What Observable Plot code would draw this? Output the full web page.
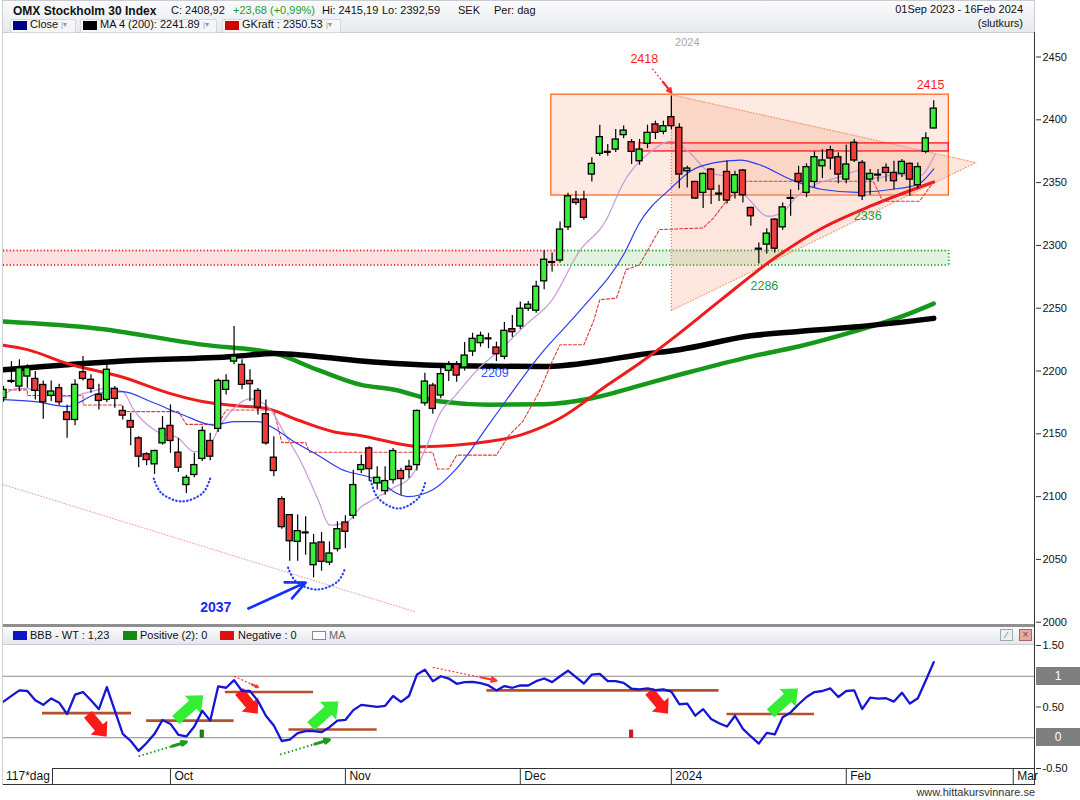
<!DOCTYPE html>
<html><head><meta charset="utf-8">
<script src="https://cdn.jsdelivr.net/npm/d3@7"></script>
<script src="https://cdn.jsdelivr.net/npm/@observablehq/plot@0.6"></script>
<style>
body{margin:0;background:#fff;font-family:"Liberation Sans",Arial,sans-serif;}
#wrap{position:relative;width:1080px;height:800px;overflow:hidden;background:#fff;}
</style></head><body><div id="wrap"></div>
<script>
// ---------- DATA ----------
const candleOpen = [2178.3,2192.1,2187.6,2195.6,2193.7,2188.9,2180.2,2186.3,2167.1,2161.0,
 2199.0,2193.0,2181.0,2177.0,2185.8,2168.2,2160.2,2146.4,2133.7,2125.7,
 2142.4,2156.3,2135.0,2109.2,2117.2,2130.0,2144.3,2153.9,2185.0,2207.5,
 2204.9,2192.1,2184.2,2165.6,2131.0,2098.0,2085.3,2064.0,2071.5,2045.4,
 2063.5,2047.5,2058.2,2079.4,2084.7,2121.2,2138.4,2110.5,2104.4,2113.2,
 2120.4,2123.8,2125.1,2174.3,2188.4,2180.5,2200.1,2204.9,2202.8,2215.5,
 2222.2,2226.0,2218.7,2211.3,2233.3,2235.5,2249.6,2248.0,2271.4,2286.8,
 2287.9,2314.4,2336.5,2336.5,2356.4,2372.9,2374.5,2376.3,2387.8,2382.2,
 2367.0,2380.9,2396.3,2390.4,2402.1,2393.6,2359.0,2350.5,2341.8,2360.4,
 2341.3,2358.5,2341.8,2359.6,2329.8,2297.4,2300.6,2320.5,2314.4,2337.8,
 2356.9,2341.8,2350.5,2363.0,2375.8,2370.2,2352.4,2381.7,2365.7,2352.4,
 2356.4,2361.7,2357.7,2356.9,2364.9,2347.9,2374.5,2393.1];
const candleHigh = [2187.6,2207.5,2208.9,2204.9,2199.6,2192.1,2192.1,2189.5,2173.0,2193.0,
 2211.6,2197.0,2189.5,2205.0,2187.6,2171.7,2166.3,2147.7,2135.0,2137.0,
 2163.7,2173.0,2146.4,2117.0,2134.5,2155.7,2150.4,2193.7,2197.0,2235.5,
 2209.0,2201.0,2186.0,2177.0,2147.7,2099.9,2085.8,2085.3,2084.0,2069.9,
 2071.5,2064.0,2080.0,2084.7,2121.0,2133.0,2139.8,2123.8,2123.8,2138.4,
 2122.5,2129.0,2169.0,2198.3,2190.3,2205.4,2207.5,2207.5,2222.7,2230.1,
 2231.0,2230.0,2223.0,2238.7,2244.2,2254.9,2255.4,2271.4,2295.8,2293.9,
 2318.7,2341.5,2343.1,2343.1,2369.7,2395.7,2380.3,2392.3,2395.0,2384.3,
 2384.3,2395.7,2398.9,2398.9,2418.9,2396.8,2363.0,2351.0,2357.7,2361.2,
 2347.9,2367.0,2359.0,2360.4,2330.3,2301.9,2313.3,2321.3,2333.8,2344.4,
 2363.0,2364.9,2374.5,2376.3,2379.0,2373.7,2379.8,2384.3,2367.5,2360.4,
 2360.4,2364.9,2367.0,2368.4,2365.7,2365.7,2389.6,2415.2];
const candleLow = [2175.1,2190.0,2183.6,2186.3,2177.0,2161.6,2175.7,2172.5,2146.4,2156.5,
 2192.0,2182.3,2169.0,2175.0,2170.3,2161.0,2140.6,2123.0,2124.6,2117.7,
 2141.0,2134.5,2119.3,2102.5,2115.0,2128.0,2128.6,2151.0,2181.0,2205.0,
 2185.0,2175.7,2165.0,2141.0,2115.8,2074.0,2048.6,2048.6,2053.4,2035.3,
 2040.6,2045.0,2056.0,2058.7,2082.0,2118.5,2112.0,2105.2,2101.0,2110.0,
 2101.0,2114.5,2120.4,2172.0,2165.6,2178.0,2191.6,2191.1,2200.1,2211.5,
 2219.0,2217.7,2207.5,2209.0,2226.7,2233.0,2247.4,2246.0,2264.7,2278.8,
 2286.0,2311.8,2332.0,2320.0,2350.5,2371.0,2371.0,2374.0,2385.0,2364.4,
 2363.8,2377.0,2384.3,2388.0,2392.0,2345.2,2345.8,2336.5,2329.3,2332.5,
 2335.0,2333.0,2337.0,2333.8,2315.2,2285.2,2293.1,2294.0,2312.0,2323.2,
 2343.6,2338.0,2346.0,2353.2,2360.0,2349.0,2349.0,2366.0,2335.7,2339.9,
 2350.5,2350.5,2344.4,2354.0,2339.1,2345.0,2373.0,2392.6];
const candleClose = [2185.0,2192.1,2202.2,2202.2,2184.2,2175.1,2183.7,2175.1,2161.0,2189.0,
 2193.7,2185.8,2176.2,2201.0,2177.8,2164.5,2154.9,2131.8,2129.1,2136.3,
 2153.9,2144.3,2123.0,2115.0,2125.1,2152.3,2131.8,2192.1,2192.1,2211.5,
 2189.0,2189.5,2170.9,2142.4,2120.4,2075.7,2064.5,2072.5,2071.5,2062.7,
 2048.1,2054.7,2074.1,2072.0,2109.2,2125.1,2121.9,2115.0,2112.4,2136.3,
 2114.0,2121.2,2168.2,2191.6,2169.8,2197.5,2204.9,2196.4,2212.3,2225.6,
 2228.0,2226.0,2213.4,2232.0,2230.9,2249.6,2252.8,2267.1,2288.6,2286.8,
 2312.6,2339.1,2333.8,2322.0,2364.9,2386.2,2374.5,2384.3,2391.4,2374.5,
 2376.3,2389.6,2389.6,2394.9,2394.9,2356.4,2361.2,2337.3,2356.9,2344.4,
 2341.3,2335.7,2355.9,2339.9,2323.2,2297.4,2309.4,2297.4,2330.3,2337.8,
 2350.5,2362.3,2370.2,2367.6,2369.2,2356.4,2364.4,2367.6,2339.1,2356.9,
 2356.4,2357.7,2351.1,2366.5,2352.4,2362.3,2385.2,2408.9];

// moving averages / indicator lines: [trading-day index, value]
const ma200Line = [[0,2201],[15,2208],[29,2211.6],[34,2214],[37,2213],[45,2208],[55,2204.4],[68,2203.6],[75,2208],[80,2213],[85,2217],[94,2228],[100,2231.5],[107,2235],[117,2241.9]];
const greenAvgLine = [[0,2239.4],[12,2233.7],[25,2221],[34,2214.2],[39.5,2201],[45,2189],[49,2185.3],[55,2175.7],[61,2173.2],[68,2173.5],[74,2178.3],[80,2188.4],[85,2197],[94,2211.5],[100,2219.5],[107,2231.5],[113,2243.5],[117,2253.7]];
const gkraftLine = [[0,2220.5],[3,2217],[8,2206],[15,2195],[21,2182],[25,2175.7],[29,2172.5],[33,2170.3],[37,2161],[41.5,2151.7],[45,2148.5],[52.5,2139.8],[61,2143.8],[65,2149],[70,2162.4],[76,2189],[80,2206.2],[85,2230],[90,2255.4],[97,2290],[103,2313.9],[109,2331.2],[117,2350.5]];
const blueAvgLine = [[0,2177.3],[4,2175.7],[8,2171.7],[12,2182.3],[15,2183.6],[18.5,2175.7],[22.6,2165],[26.4,2157],[29,2159.7],[32,2159.7],[34,2154.4],[36.5,2143.8],[39.5,2133.2],[42.4,2122],[46.5,2114.5],[50.8,2100],[54,2105.5],[57,2122.5],[61.3,2159.7],[67.5,2212.9],[72.6,2248.8],[78,2292.7],[80,2318],[84,2345.8],[86.4,2359.1],[89.3,2365.7],[92.7,2367.9],[95,2364.4],[99,2352.5],[103,2344.5],[107.4,2342.3],[111.6,2344.5],[115,2348.5],[117,2360.9]];
const purpleAvgLine = [[0,2181],[2,2186.3],[5,2183.6],[8,2179.6],[11,2183.6],[13,2186.3],[15,2183.6],[16.4,2169],[19,2153],[22,2146.4],[24,2135.8],[25.6,2138.4],[27.3,2157],[29,2170.3],[31,2177.8],[33.2,2171.7],[35.7,2146.4],[37.4,2127.8],[39.5,2098.6],[41.1,2077.3],[43.2,2080],[45,2091.9],[46.4,2097.2],[48.9,2106.5],[51.4,2117.2],[53.1,2138.4],[54.8,2165],[56.9,2181],[59.8,2202.2],[62.7,2218.2],[65.7,2236.8],[69,2256.7],[72.4,2295],[75.7,2319.2],[78,2350],[81.5,2375],[84,2383],[86.1,2375],[88.6,2359],[91.1,2353.7],[93.6,2337.8],[96.2,2323.2],[97.9,2325.8],[99.6,2337.8],[102.1,2348.4],[105.5,2355],[107.6,2359.6],[109.7,2353.7],[112.2,2356.4],[115.1,2355],[117.2,2372.9]];
const stopLine = [[0,2185],[3,2185],[3,2180.5],[10,2180.5],[10,2173],[15,2173],[15,2167.7],[22,2167.7],[23,2157.5],[27,2157.5],[28,2169],[34,2169],[35,2143],[38,2143],[38.5,2135.3],[54,2135.3],[54.6,2122],[56,2122],[57,2133],[62,2133],[63.6,2149],[65.3,2159.7],[67.4,2183.6],[69,2207.6],[70,2220.9],[73,2220.9],[74.2,2239.5],[75,2256.7],[77.1,2258],[78.3,2280.7],[80,2284.6],[82.5,2312.6],[88,2313.9],[89.3,2321.8],[90.9,2335.1],[93.4,2351.1],[109.4,2351.1],[110.6,2335.1],[115.2,2335.1],[116.9,2349.8]];

// lower panel indicator (BBB - WT)
const bbbValues = [0.588,0.68,0.77,0.76,0.61,0.535,0.64,0.57,0.385,0.70,
 0.743,0.61,0.465,0.823,0.44,0.064,-0.053,-0.214,-0.086,0.064,
 0.289,0.225,0.048,0.021,0.182,0.44,0.278,0.834,0.813,0.936,
 0.76,0.76,0.60,0.358,0.198,-0.053,-0.032,0.075,0.107,0.107,
 0.091,0.171,0.278,0.289,0.449,0.535,0.519,0.503,0.519,0.679,
 0.583,0.679,1.027,1.107,0.92,1.0,0.963,0.877,0.904,0.909,
 0.888,0.85,0.77,0.84,0.813,0.85,0.85,0.92,0.963,0.904,
 1.0,1.09,0.984,0.882,1.027,1.037,0.92,0.92,0.893,0.797,
 0.786,0.802,0.775,0.786,0.749,0.545,0.556,0.358,0.465,0.305,
 0.235,0.182,0.358,0.144,0.021,-0.096,0.08,0.053,0.332,0.412,
 0.545,0.663,0.743,0.76,0.802,0.663,0.76,0.77,0.465,0.652,
 0.636,0.642,0.588,0.733,0.556,0.642,0.93,1.23];
const bbbLevels = [[4.9,16.1,0.40],[18,29,0.278],[27.9,39,0.743],[35.9,47,0.134],[60.8,90,0.77],[91,102,0.385]];
const bbbDownArrows = [[11.8,0.198],[30.8,0.572],[82.4,0.572]];
const bbbUpArrows = [[23.4,0.49],[40.4,0.39],[98.2,0.6]];
const bbbGreenDashArrows = [[17,-0.30,23,-0.07],[34.8,-0.273,41,-0.032]];
const bbbRedDashArrows = [[29,1.0,32,0.823],[54,1.144,62,0.93]];
const bbbPositiveBars = [[25,0.118]];
const bbbNegativeBars = [[79,0.118]];

// annotations on the price panel
const zoneBox = [[68.9,118.9,2339.7,2420]];
const resistBand = [[80,118.9,2374.8,2381.2]];
const supportRed = [[0,70.1,2284.5,2296]];
const supportGreen = [[70.1,118.9,2284.5,2296]];
const triangleZone = [[84,2248.2,2420],[122.3,2365.9,2365.9]];
const trendLine = [[0,2109.5],[51.8,2008.2]];
const smileArcs = [[18.9,26,2114.4,2096.1],[35.8,43,2043.5,2026],[46.2,53.1,2112.8,2090.5]];
const priceLabels = [
  {i:80.6, p:2448.8, t:"2418", c:"#ff1a1a"},
  {i:116.6, p:2428.1, t:"2415", c:"#ff1a1a"},
  {i:108.7, p:2323.8, t:"2336", c:"#239a3a"},
  {i:95.7, p:2267.3, t:"2286", c:"#239a3a"},
  {i:61.8, p:2198.8, t:"2209", c:"#2b50ff"},
  {i:86, p:2461.5, t:"2024", c:"#a8a8a8"}
];

const priceTicks = [2000,2050,2100,2150,2200,2250,2300,2350,2400,2450];
const bbbTicks = [1.5,0.5,-0.5];
const bbbBoxedTicks = [1,0];
const monthTickIndex = [21,43,65,84,106,127];
const monthTickLabels = ["Oct","Nov","Dec","2024","Feb","Mar"];

// ---------- BUILD ----------
const font = "Liberation Sans, Arial, sans-serif";
const wrap = document.getElementById("wrap");
const candles = candleClose.map((c,i)=>({i, open:candleOpen[i], high:candleHigh[i], low:candleLow[i], close:c}));
const bodies = candles.filter(d=>Math.abs(d.close-d.open)>=0.6);
const dojis = candles.filter(d=>Math.abs(d.close-d.open)<0.6);
const xDomain = [0, 129.8];
const GREEN = "#3aee3a", RED = "#f03c3c";
const lineOpts = (stroke, w, extra={}) => ({x:d=>d[0], y:d=>d[1], stroke, strokeWidth:w, curve:"monotone-x", clip:true, ...extra});

const topPlot = Plot.plot({
  width:1080, height:593, marginTop:0, marginBottom:0, marginLeft:3, marginRight:45,
  x:{domain:xDomain, axis:null},
  y:{domain:[1997.4,2469.5], axis:null, label:null},
  color:{type:"identity"},
  style:{fontFamily:font, fontSize:"11px", background:"transparent", overflow:"visible"},
  marks:[
    Plot.axisY({ticks:priceTicks, anchor:"right", tickSize:5, tickPadding:2, tickFormat:d=>String(d), label:null, fill:"#111", stroke:"#333"}),
    Plot.rect(supportRed, {x1:d=>d[0], x2:d=>d[1], y1:d=>d[2], y2:d=>d[3], fill:"#fde0e0"}),
    Plot.rect(supportGreen, {x1:d=>d[0], x2:d=>d[1], y1:d=>d[2], y2:d=>d[3], fill:"#e1f2e1"}),
    Plot.ruleY(supportRed.flatMap(d=>[[d[0],d[1],d[2]],[d[0],d[1],d[3]]]), {x1:d=>d[0], x2:d=>d[1], y:d=>d[2], stroke:"#ff2a2a", strokeWidth:2, strokeDasharray:"1.2,2.2"}),
    Plot.ruleY(supportGreen.flatMap(d=>[[d[0],d[1],d[2]],[d[0],d[1],d[3]]]), {x1:d=>d[0], x2:d=>d[1], y:d=>d[2], stroke:"#22a822", strokeWidth:2, strokeDasharray:"1.2,2.2"}),
    Plot.ruleX(supportGreen, {x:d=>d[1], y1:d=>d[2], y2:d=>d[3], stroke:"#22a822", strokeWidth:2, strokeDasharray:"1.2,2.2"}),
    Plot.rect(zoneBox, {x1:d=>d[0], x2:d=>d[1], y1:d=>d[2], y2:d=>d[3], fill:"#f4a07c", fillOpacity:0.22, stroke:"#ff6a24", strokeWidth:1.3}),
    Plot.areaY(triangleZone, {x:d=>d[0], y1:d=>d[1], y2:d=>d[2], fill:"#f4a07c", fillOpacity:0.26}),
    Plot.line(triangleZone, {x:d=>d[0], y:d=>d[2], stroke:"#f59a78", strokeWidth:1.2, strokeDasharray:"1,2"}),
    Plot.line(triangleZone, {x:d=>d[0], y:d=>d[1], stroke:"#f59a78", strokeWidth:1.2, strokeDasharray:"1,2"}),
    Plot.ruleX(triangleZone.slice(0,1), {x:d=>d[0], y1:d=>d[1], y2:d=>d[2], stroke:"#f08040", strokeWidth:1.2, strokeDasharray:"1,2"}),
    Plot.rect(resistBand, {x1:d=>d[0], x2:d=>d[1], y1:d=>d[2], y2:d=>d[3], fill:"#ff8080", fillOpacity:0.22, stroke:"#ff2020", strokeWidth:1.4}),
    Plot.line(trendLine, lineOpts("#f29a9a", 1, {curve:"linear", strokeDasharray:"1,2"})),
    Plot.line(greenAvgLine, lineOpts("#16991a", 4.5)),
    Plot.line(ma200Line, lineOpts("#000", 5.5)),
    Plot.line(gkraftLine, lineOpts("#ee1c1c", 3)),
    Plot.line(stopLine, lineOpts("#e03a3a", 1.1, {curve:"linear", strokeDasharray:"3,2"})),
    Plot.line(purpleAvgLine, lineOpts("#c79ad8", 1.3, {strokeDasharray:"2,1"})),
    Plot.line(blueAvgLine, lineOpts("#2b3cf0", 1.2)),
    ...smileArcs.map(a => Plot.line([[a[0],a[2]],[a[0]+(a[1]-a[0])*0.13,a[3]+(a[2]-a[3])*0.38],[(a[0]+a[1])/2,a[3]],[a[1]-(a[1]-a[0])*0.13,a[3]+(a[2]-a[3])*0.38],[a[1],a[2]]],
      {x:d=>d[0], y:d=>d[1], curve:"catmull-rom", stroke:"#2a3cff", strokeWidth:2.2, strokeDasharray:"0.5,3.2", strokeLinecap:"round"})),
    Plot.ruleX(candles, {x:"i", y1:"low", y2:"high", stroke:"#000", strokeWidth:1.2, clip:true}),
    Plot.rect(bodies, {x1:d=>d.i-0.38, x2:d=>d.i+0.38, y1:"open", y2:"close", fill:d=>d.close>=d.open?GREEN:RED, stroke:"#000", strokeWidth:1.3, clip:true}),
    Plot.ruleY(dojis, {y:"close", x1:d=>d.i-0.45, x2:d=>d.i+0.45, stroke:"#000", strokeWidth:2.2, clip:true}),
    Plot.link([[81.6,2440.8,84,2421.7]], {x1:d=>d[0], y1:d=>d[1], x2:d=>d[2], y2:d=>d[3], stroke:"#ff2a2a", strokeWidth:1.2, strokeDasharray:"2,2"}),
    Plot.arrow([[81.6,2440.8,84,2421.7]], {x1:d=>d[0]+(d[2]-d[0])*0.55, y1:d=>d[1]+(d[3]-d[1])*0.55, x2:d=>d[2], y2:d=>d[3], stroke:"#ff2a2a", strokeWidth:2.2, headLength:9, headAngle:55}),
    Plot.arrow([[30.8,2010.9,38,2031.6]], {x1:d=>d[0], y1:d=>d[1], x2:d=>d[2], y2:d=>d[3], stroke:"#1432ff", strokeWidth:2.6, headLength:15, headAngle:50}),
    Plot.text([[26.7,2012]], {x:d=>d[0], y:d=>d[1], text:()=>"2037", fill:"#1a2aee", fontWeight:"bold", fontSize:14}),
    Plot.text(priceLabels, {x:"i", y:"p", text:"t", fill:"c", fontSize:d=>d.t==="2024"?11:12.5})
  ]
});

function blockArrow(angleDeg, len, shaftHalf, headHalf, headLen){
  const a = angleDeg*Math.PI/180, c=Math.cos(a), s=Math.sin(a);
  const pts = [[-len/2,-shaftHalf],[len/2-headLen,-shaftHalf],[len/2-headLen,-headHalf],[len/2,0],[len/2-headLen,headHalf],[len/2-headLen,shaftHalf],[-len/2,shaftHalf]]
    .map(([x,y])=>[x*c-y*s, x*s+y*c]);
  return {draw(ctx){ctx.moveTo(pts[0][0],pts[0][1]); for(const p of pts.slice(1)) ctx.lineTo(p[0],p[1]); ctx.closePath();}};
}
const downSym = blockArrow(50, 29, 5.2, 11, 12);
const upSym = blockArrow(-42, 37, 5.5, 12, 14);
const monthLabelOf = new Map(monthTickIndex.map((d,k)=>[d, monthTickLabels[k]]));

const lowPlot = Plot.plot({
  width:1080, height:139, marginTop:0, marginBottom:16, marginLeft:3, marginRight:45,
  x:{domain:xDomain, axis:null},
  y:{domain:[-0.5,1.5], axis:null, label:null},
  style:{fontFamily:font, fontSize:"11px", background:"transparent", overflow:"visible"},
  marks:[
    Plot.ruleY([0,1], {stroke:"#8a8a8a", strokeWidth:1.2}),
    Plot.axisY({ticks:bbbTicks, anchor:"right", tickSize:5, tickPadding:2, tickFormat:d=>d.toFixed(2), label:null, fill:"#111", stroke:"#333"}),
    Plot.axisX({ticks:monthTickIndex, anchor:"bottom", tickSize:16, tickFormat:()=>"", label:null, stroke:"#333"}),
    Plot.text(monthTickIndex, {x:d=>d, frameAnchor:"bottom", text:d=>monthLabelOf.get(d), textAnchor:"start", lineAnchor:"middle", dx:4, dy:8, fontSize:12, fill:"#111"}),
    Plot.ruleY(bbbLevels, {x1:d=>d[0], x2:d=>d[1], y:d=>d[2], stroke:"#b4502c", strokeWidth:2.6}),
    Plot.rect(bbbPositiveBars, {x1:d=>d[0]-0.22, x2:d=>d[0]+0.22, y1:0, y2:d=>d[1], fill:"#168a16", stroke:"#0d5c0d", strokeWidth:0.6}),
    Plot.rect(bbbNegativeBars, {x1:d=>d[0]-0.22, x2:d=>d[0]+0.22, y1:0, y2:d=>d[1], fill:"#e01010", stroke:"#9a0a0a", strokeWidth:0.6}),
    Plot.link(bbbGreenDashArrows, {x1:d=>d[0], y1:d=>d[1], x2:d=>d[2], y2:d=>d[3], stroke:"#1f9a1f", strokeWidth:2, strokeDasharray:"1.5,2.5"}),
    Plot.arrow(bbbGreenDashArrows, {x1:d=>d[0]+(d[2]-d[0])*0.7, y1:d=>d[1]+(d[3]-d[1])*0.7, x2:d=>d[2], y2:d=>d[3], stroke:"#1f9a1f", strokeWidth:3, headLength:10, headAngle:45}),
    Plot.link(bbbRedDashArrows, {x1:d=>d[0], y1:d=>d[1], x2:d=>d[2], y2:d=>d[3], stroke:"#ff3535", strokeWidth:1.2, strokeDasharray:"2,2"}),
    Plot.arrow(bbbRedDashArrows, {x1:d=>d[0]+(d[2]-d[0])*0.75, y1:d=>d[1]+(d[3]-d[1])*0.75, x2:d=>d[2], y2:d=>d[3], stroke:"#ff3535", strokeWidth:2.2, headLength:8, headAngle:50}),
    Plot.dot(bbbDownArrows, {x:d=>d[0], y:d=>d[1], symbol:downSym, r:10, fill:"#ff1a1a", stroke:"none"}),
    Plot.dot(bbbUpArrows, {x:d=>d[0], y:d=>d[1], symbol:upSym, r:10, fill:"#33ee33", stroke:"none"}),
    Plot.line(bbbValues, {x:(d,i)=>i, y:d=>d, stroke:"#1515d6", strokeWidth:2.3})
  ]
});

// ---------- LAYOUT ----------
function el(css, html){const e=document.createElement("div"); e.style.cssText="position:absolute;white-space:nowrap;"+css; if(html!=null) e.innerHTML=html; wrap.appendChild(e); return e;}
el("left:3px;top:0;width:1031px;height:31px;background:linear-gradient(#fbfbfc,#e7e9ee);border:1px solid #c9ccd3;border-left:none;");
el("left:13px;top:4px;font-size:12px;font-weight:bold;color:#111;","OMX Stockholm 30 Index");
const hdr = [[171,"C: 2408,92","#111"],[233,"+23,68 (+0,99%)","#1ea01e"],[322,"Hi: 2415,19","#111"],[382,"Lo: 2392,59","#111"],[458,"SEK","#111"],[494,"Per: dag","#111"]];
for(const [x,t,c] of hdr) el(`left:${x}px;top:4px;font-size:11px;color:${c};`,t);
el("right:57px;top:3px;font-size:11px;color:#111;text-align:right;","01Sep 2023 - 16Feb 2024");
el("right:57px;top:17px;font-size:11px;color:#111;","(slutkurs)");
const legend = [[10,64,"#00008b","Close",61],[80,135,"#000","MA 4 (200): 2241.89",203],[222,117,"#d40000","GKraft : 2350.53",326]];
for(const [x,w,c,t,dx] of legend){
  el(`left:${x}px;top:19px;width:${w}px;height:12px;border:1px solid #d6d8de;border-radius:2px;background:#f5f6f8;`);
  el(`left:${x+3}px;top:21px;width:14px;height:9px;background:${c};`);
  el(`left:${x+20}px;top:18px;font-size:11px;color:#111;`,t);
  el(`left:${dx}px;top:19px;font-size:8px;line-height:12px;color:#999;`,"|&#9662;");
}
const topDiv = el("left:0;top:32px;");
topDiv.appendChild(topPlot);
el("left:3px;top:624px;width:1032px;height:3px;background:#8f8f8f;");
el("left:3px;top:627px;width:1031px;height:17px;background:linear-gradient(#fbfbfc,#e5e7ec);border-right:1px solid #c9ccd3;border-bottom:1px solid #c9ccd3;");
const lleg = [[13,"#0a14c8","BBB - WT : 1,23",30],[123,"#138a13","Positive (2): 0",140],[220,"#e01010","Negative : 0",238]];
for(const [x,c,t,tx] of lleg){
  el(`left:${x}px;top:631px;width:14px;height:9px;background:${c};`);
  el(`left:${tx}px;top:629px;font-size:11px;color:#111;`,t);
}
el("left:312px;top:631px;width:12px;height:7px;border:1px solid #888;background:#fff;");
el("left:329px;top:629px;font-size:11px;color:#666;","MA");
el("left:1000px;top:629px;width:11px;height:10px;border:1px solid #9aa;background:#eef0f2;font-size:9px;line-height:10px;text-align:center;color:#667;","&#8725;");
el("left:1019px;top:629px;width:11px;height:10px;border:1px solid #a66;background:#e7a8a0;font-size:10px;line-height:10px;text-align:center;color:#844;","&#215;");
const lowDiv = el("left:0;top:645px;");
lowDiv.appendChild(lowPlot);
const ly = lowPlot.scale("y");
for(const v of bbbBoxedTicks){
  const y = 645 + ly.apply(v);
  el(`left:1036px;top:${y-9}px;width:44px;height:18px;background:#7f7f7f;color:#fff;font-size:12px;line-height:18px;text-align:center;`, String(v));
}
el("left:3px;top:768px;width:1032px;height:0;border-top:1px solid #333;");
el("left:3px;top:784px;width:1032px;height:0;border-top:1px solid #333;");
el("left:3px;top:768px;width:49px;height:16px;border-right:1px solid #333;background:#fff;");
el("left:6px;top:769px;font-size:12px;color:#111;","117*dag");
el("left:2px;top:0;width:1px;height:785px;background:#cfcfcf;");
el("left:1034px;top:32px;width:1px;height:753px;background:#333;");
el("right:45px;top:786px;font-size:11px;line-height:13px;color:#333;","www.hittakursvinnare.se");
</script></body></html>
